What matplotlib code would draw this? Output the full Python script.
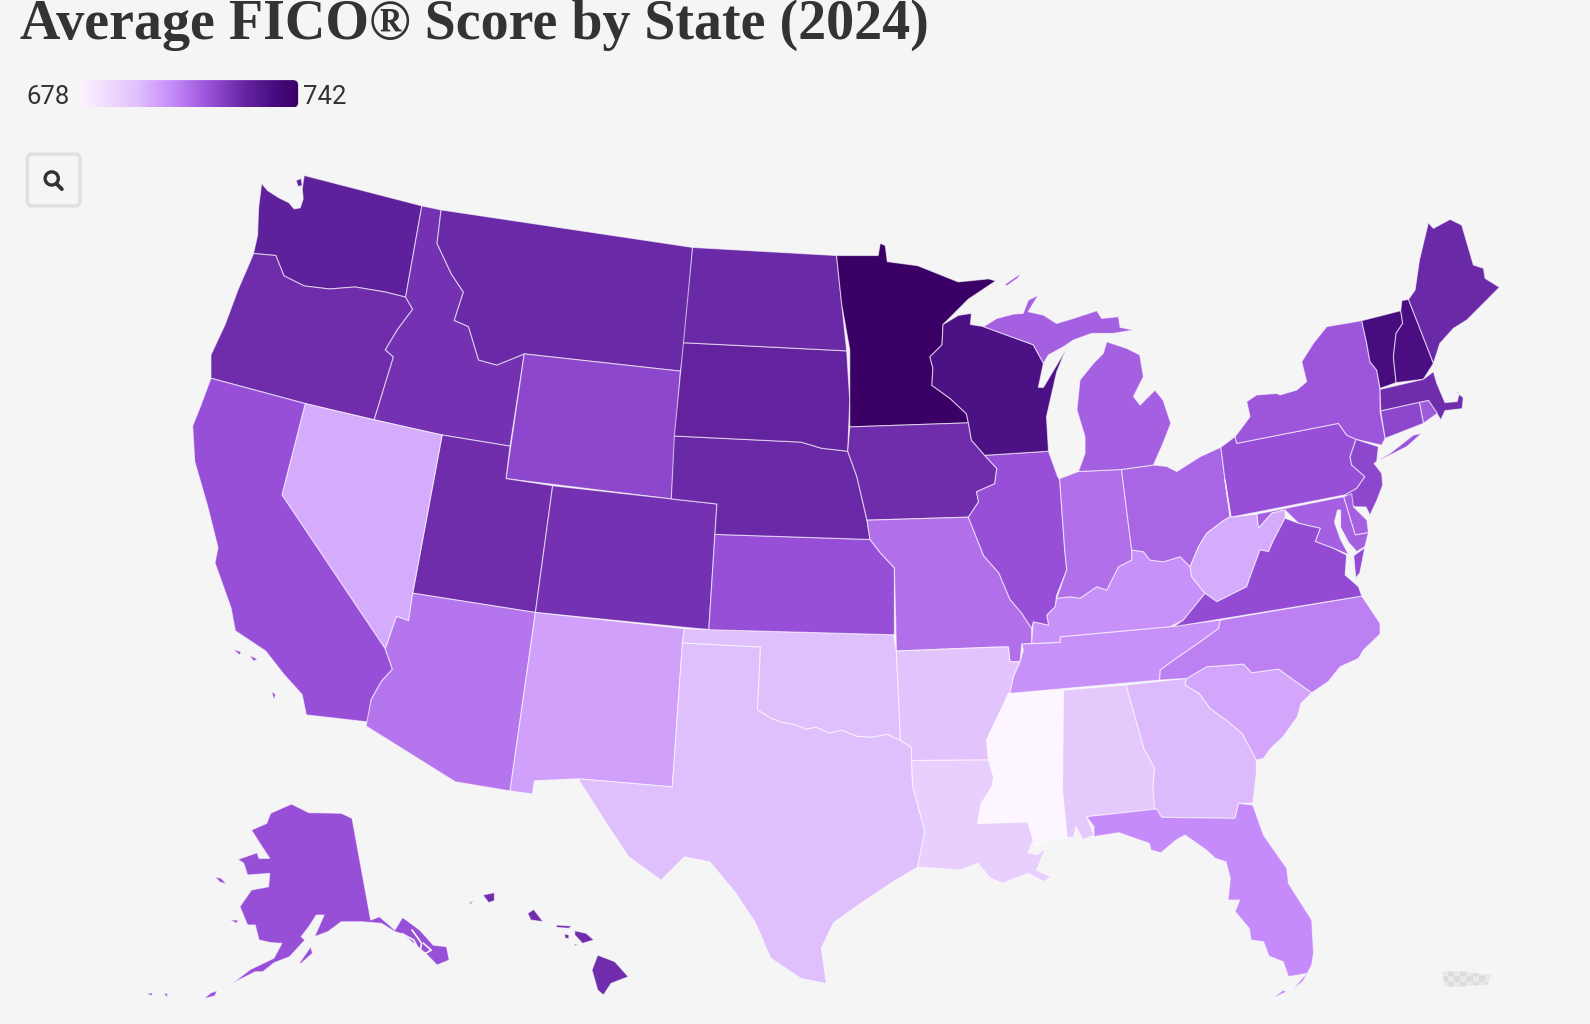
import matplotlib
matplotlib.use("Agg")
import matplotlib.pyplot as plt
import numpy as np
from matplotlib.colors import LinearSegmentedColormap, ListedColormap, Normalize
from matplotlib.patches import Circle, FancyBboxPatch, Polygon

# score range of the legend
SCORE_MIN = 678
SCORE_MAX = 742

# state scores, estimated from the fill colours
STATES = ["AK", "AL", "AR", "AZ", "CA", "CO", "CT", "DE", "FL", "GA", "HI", "IA", "ID", "IL", "IN", "KS", "KY",
          "LA", "MA", "MD", "ME", "MI", "MN", "MO", "MS", "MT", "NC", "ND", "NE", "NH", "NJ", "NM", "NV", "NY",
          "OH", "OK", "OR", "PA", "RI", "SC", "SD", "TN", "TX", "UT", "VA", "VT", "WA", "WI", "WV", "WY"]
SCORES = [716, 692, 694, 709, 716, 723, 718, 713, 705, 696, 724, 724, 723, 716, 710, 716, 704,
          690, 724, 713, 725, 713, 742, 710, 678, 725, 707, 725, 725, 734, 718, 701, 699, 715,
          712, 695, 724, 716, 714, 700, 727, 704, 695, 724, 717, 735, 728, 733, 699, 718]

# colour ramp stops
RAMP_SCORES = [678, 695, 705, 716, 725, 735, 742]
RAMP_COLORS = ["#fdf5ff", "#e0c0fc", "#c68cfa", "#9850d8", "#6b2aa8", "#470c7f", "#3b0066"]

# state outlines, in picture units, one list per land part
OUTLINES = {
    "WA": [[(258, 181), (264, 188), (275, 195), (285, 200), (290, 206), (296, 205), (299, 196), (298, 186), (300, 173), (416, 203), (400, 293), (380, 288), (350, 283), (325, 285), (300, 282), (280, 272), (272, 252), (250, 250), (254, 232), (255, 205)],
           [(292, 178), (297, 176), (298, 183), (294, 184)]],
    "OR": [[(250, 250), (272, 252), (280, 272), (300, 282), (325, 285), (350, 283), (380, 288), (400, 293), (407, 305), (392, 325), (380, 345), (388, 352), (369, 414), (301, 398), (208, 373), (208, 350), (222, 320), (235, 285), (245, 262)]],
    "ID": [[(416, 203), (435, 207), (431, 240), (445, 270), (457, 288), (448, 316), (462, 322), (472, 355), (490, 360), (517, 349), (503, 440), (436, 429), (369, 414), (388, 352), (380, 345), (392, 325), (407, 305), (400, 293)]],
    "MT": [[(435, 207), (683, 244), (676, 340), (671, 366), (517, 349), (490, 360), (472, 355), (462, 322), (448, 316), (457, 288), (445, 270), (431, 240)]],
    "WY": [[(517, 349), (671, 366), (662, 492), (499, 472)]],
    "UT": [[(436, 429), (503, 440), (499, 472), (545, 479), (528, 604), (407, 585)]],
    "NV": [[(301, 398), (369, 414), (436, 429), (407, 585), (403, 612), (391, 608), (380, 640), (278, 488)]],
    "CA": [[(208, 373), (301, 398), (278, 488), (380, 640), (387, 660), (376, 672), (366, 690), (363, 712), (302, 705), (298, 685), (280, 665), (262, 642), (232, 622), (228, 600), (212, 555), (215, 540), (205, 500), (192, 455), (190, 420), (198, 400)],
           [(230, 640), (238, 643), (236, 646)], [(246, 646), (254, 650), (250, 652)], [(268, 682), (272, 685), (270, 690)]],
    "AZ": [[(407, 585), (528, 604), (503, 780), (449, 771), (361, 716), (366, 690), (376, 672), (387, 660), (380, 640), (391, 608), (403, 612)]],
    "CO": [[(545, 479), (707, 497), (699, 621), (528, 604)]],
    "NM": [[(528, 604), (675, 620), (673, 634), (663, 776), (570, 768), (527, 770), (525, 783), (503, 780)]],
    "TX": [[(673, 634), (750, 638), (747, 700), (760, 708), (770, 712), (785, 715), (795, 719), (805, 717), (818, 723), (830, 720), (845, 726), (860, 727), (875, 724), (888, 730), (899, 737), (899, 750), (900, 775), (912, 820), (905, 855), (880, 870), (850, 890), (822, 910), (810, 935), (815, 970), (790, 965), (760, 945), (745, 910), (725, 880), (700, 850), (675, 845), (652, 868), (620, 845), (600, 815), (570, 768), (663, 776)]],
    "OK": [[(675, 620), (881, 626), (884, 642), (888, 730), (875, 724), (860, 727), (845, 726), (830, 720), (818, 723), (805, 717), (795, 719), (785, 715), (770, 712), (760, 708), (747, 700), (750, 638), (673, 634)]],
    "KS": [[(705, 527), (858, 532), (868, 545), (882, 560), (882, 626), (699, 621)]],
    "NE": [[(665, 430), (790, 436), (810, 442), (836, 445), (845, 470), (855, 513), (858, 532), (705, 527), (707, 497), (662, 492)]],
    "SD": [[(674, 338), (835, 346), (838, 395), (836, 445), (810, 442), (790, 436), (665, 430)]],
    "ND": [[(683, 244), (825, 252), (835, 346), (674, 338)]],
    "MN": [[(825, 252), (866, 252), (868, 240), (873, 242), (875, 258), (905, 262), (925, 270), (945, 278), (975, 275), (982, 277), (955, 295), (930, 320), (929, 340), (917, 352), (920, 363), (919, 380), (937, 393), (953, 408), (955, 417), (838, 421), (838, 345), (830, 300)]],
    "IA": [[(838, 421), (955, 417), (958, 434), (971, 449), (983, 462), (981, 477), (963, 485), (965, 495), (955, 510), (855, 513), (845, 470), (836, 445)]],
    "MO": [[(855, 513), (955, 510), (970, 548), (985, 565), (996, 591), (1007.5, 604.7), (1017.4, 619.8), (1017.4, 634.5), (1007.6, 635.2), (1006, 652.6), (996, 652.6), (994.4, 638), (986, 638), (884, 642), (882, 560), (868, 545), (858, 532)]],
    "AR": [[(884, 642), (986, 638), (994.4, 638), (996, 652.6), (1006, 652.6), (999.4, 667.4), (996, 683.8), (985.4, 703.5), (973, 729.8), (975, 749.5), (899, 750), (899, 737), (888, 730)]],
    "LA": [[(899, 750), (975, 749.5), (980, 766), (978.4, 775.8), (967.8, 792.3), (964.3, 812), (1013.6, 810.4), (1019, 828.4), (1013.6, 841), (1022.4, 843), (1031, 836.6), (1022.4, 858), (1036.5, 864.6), (1029.5, 869.5), (1013.6, 861.3), (989, 871), (976.6, 866.2), (964.3, 851.4), (946.7, 858), (905, 855), (912, 820), (900, 775)]],
    "MS": [[(994.3, 683.8), (1048.8, 680.5), (1047.8, 779), (1052.4, 825.8), (1034.8, 827.8), (1020.7, 835), (1019, 828.4), (1013.6, 810.4), (964.3, 812), (967.8, 792.3), (978.4, 775.8), (980, 766), (975, 749.5), (973, 729.8), (985.4, 703.5)]],
    "AL": [[(1048.8, 680.5), (1110.5, 675.5), (1128, 738), (1138.7, 757.7), (1137, 775.8), (1140.4, 797.9), (1071.7, 805.4), (1078.8, 823.5), (1068.2, 827.8), (1061, 815.3), (1058.7, 825.8), (1052.4, 825.8), (1047.8, 779)]],
    "GA": [[(1110.5, 675.5), (1170, 669), (1168.6, 675.5), (1182.7, 683.8), (1193.2, 698.5), (1209, 710), (1225, 723.2), (1232, 736.4), (1239, 749.5), (1239, 762.7), (1235.5, 792), (1221.4, 792.2), (1218, 807), (1145.7, 806), (1138.7, 797), (1137, 775.8), (1138.7, 757.7), (1128, 738)]],
    "FL": [[(1071.7, 805.4), (1140.4, 797.8), (1145.7, 806), (1218, 807), (1221.4, 792.3), (1235.5, 793.9), (1246, 823.5), (1269, 856.4), (1270.7, 871.2), (1293.6, 907.3), (1295.4, 940.2), (1293.6, 951.7), (1284.8, 968), (1274, 976.4), (1288.3, 960), (1270.7, 963.2), (1265.4, 948.4), (1251.4, 942.8), (1246, 928.7), (1233.7, 927), (1232, 915.6), (1218, 899), (1222.5, 887.6), (1216, 887.6), (1211, 887.6), (1213.3, 866.2), (1209, 849.8), (1198.5, 846.5), (1189.7, 838.3), (1168.6, 823.5), (1159.8, 828.4), (1145, 841), (1135, 838.3), (1133.4, 831.7), (1103.4, 821.2), (1078.8, 825), (1078.8, 815.3)],
           [(1256.6, 983), (1265.4, 976.4), (1269, 978), (1258.4, 983)]],
    "SC": [[(1170, 669), (1168.6, 675.5), (1182.7, 683.8), (1193.2, 698.5), (1209, 710), (1225, 723.2), (1232, 736.4), (1239, 749.5), (1246, 748), (1253, 738), (1265.4, 726.5), (1279.5, 706.8), (1283, 693.6), (1293.6, 683.2), (1260.8, 659.8), (1234.4, 663.4), (1226.2, 654.9), (1190, 657.5)]],
    "NC": [[(1203.2, 611.5), (1343, 587.8), (1361, 614.8), (1361, 625.3), (1344.6, 641), (1339.7, 649.3), (1321.6, 657.5), (1310, 672), (1293.6, 683.2), (1260.8, 659.8), (1234.4, 663.4), (1226.2, 654.9), (1190, 657.5), (1170.3, 669), (1143.4, 670.7), (1144, 660.8), (1157.2, 651), (1183.5, 632.9), (1201.6, 619.7)]],
    "TN": [[(1007.6, 635.2), (1045.4, 633.5), (1045.4, 628), (1153.9, 618), (1203.2, 611.5), (1201.6, 619.7), (1183.5, 632.9), (1157.2, 651), (1144, 660.8), (1143.4, 670.7), (996, 683.8), (999.4, 667.4), (1006, 652.6), (1009.2, 641)]],
    "KY": [[(1042, 590), (1055.2, 588.5), (1065, 590), (1081.6, 578.6), (1091.4, 581.9), (1103, 558.9), (1116, 552.3), (1116, 542.4), (1127.6, 544), (1134, 552.3), (1147.3, 554), (1163.8, 549), (1173.6, 558.9), (1175.3, 568.8), (1188.4, 585.2), (1167, 611.5), (1153.9, 618), (1045.4, 628), (1045.4, 633.5), (1017.4, 634.5), (1019, 613.2), (1034, 616.4), (1032.2, 606.6), (1040.5, 598.3)]],
    "IL": [[(971, 449), (1034, 445), (1043, 470), (1045, 473), (1050, 542.4), (1052, 562), (1042, 587), (1040.5, 598.3), (1032.2, 606.6), (1034, 616.4), (1019, 613.2), (1017.4, 619.8), (1007.5, 604.7), (996, 591), (985, 565), (970, 548), (955, 510), (965, 495), (963, 485), (981, 477), (983, 462)]],
    "IN": [[(1045, 472), (1063.5, 465), (1106, 463), (1116, 542.4), (1116, 552.3), (1103, 558.9), (1091.4, 581.9), (1081.6, 578.6), (1065, 590), (1055.2, 588.5), (1042, 590), (1052, 562), (1050, 542.4)]],
    "OH": [[(1106, 463), (1137.5, 458.6), (1150.6, 460), (1160.5, 465), (1183.5, 450.4), (1204, 441), (1208, 473), (1213, 509.5), (1205, 514.5), (1190, 526), (1182, 539), (1173.6, 558.9), (1163.8, 549), (1147.3, 554), (1134, 552.3), (1127.6, 544), (1116, 542.4)]],
    "WI": [[(930, 320), (945, 311), (958, 309), (957, 320), (970, 322), (1000, 333), (1019, 340), (1029, 358), (1024, 382), (1029, 382), (1051, 345), (1042, 367), (1032, 411), (1034, 445), (971, 449), (958, 434), (955, 417), (953, 408), (937, 393), (919, 380), (920, 363), (917, 352), (929, 340)]],
    "MI": [[(969.8, 322.2), (983, 314), (999.4, 309.7), (1009, 309), (1014, 296), (1024, 291), (1014, 307.4), (1029, 310.7), (1042, 319), (1058.6, 314), (1081.6, 306.4), (1086.5, 314), (1103, 312.3), (1104.6, 322.8), (1117.8, 325.5), (1098, 328.8), (1076.7, 328.8), (1058.6, 335.3), (1048.7, 342), (1034, 350), (1029, 358.3), (1019, 340)],
           [(1091.4, 337), (1111, 343.5), (1124, 350), (1127.6, 371.5), (1117.8, 391), (1124.3, 399.5), (1139, 384.7), (1147, 394.5), (1154.6, 417.5), (1147, 437), (1137.5, 458.6), (1106, 463), (1063.5, 465), (1070, 447), (1070, 430.7), (1062, 404.4), (1065, 374.8), (1078.3, 358.3), (1088, 348.5)],
           [(991, 280.4), (1006.6, 269.6), (1004, 274), (993, 282)]],
    "PA": [[(1204, 441), (1218, 430.6), (1219.6, 437.2), (1319.9, 417.5), (1328, 429), (1337.3, 433.3), (1331.4, 450.4), (1333, 458.6), (1346, 470), (1338, 481.6), (1326.5, 488), (1214, 510), (1208, 473)]],
    "NY": [[(1219.6, 437.2), (1218, 430.6), (1232.7, 411), (1229.5, 396), (1239.3, 389.5), (1259, 388), (1262.3, 389.5), (1278.8, 384.6), (1288.6, 376.4), (1283.7, 356.7), (1295.2, 338.6), (1308.4, 322.1), (1342.9, 316.2), (1347.8, 338.6), (1351, 356.7), (1357.7, 365), (1361, 384.6), (1361, 406), (1366, 432.3), (1362.6, 439), (1337.3, 433.3), (1328, 429), (1319.9, 417.5)],
           [(1359.3, 453.7), (1370.8, 447), (1393.9, 429), (1402, 427.4), (1387.3, 440.5), (1364.3, 452)]],
    "VT": [[(1342.9, 316.2), (1381.4, 306.4), (1383.3, 318.9), (1376.8, 328.7), (1374.1, 351.7), (1376.8, 377.4), (1361, 383), (1357.7, 365), (1351, 356.7), (1347.8, 338.6)]],
    "NH": [[(1382.4, 296.5), (1389, 295.2), (1413.6, 358.3), (1403.7, 374), (1376.8, 377.4), (1374.1, 351.7), (1376.8, 328.7), (1383.3, 318.9), (1381.4, 306.4)]],
    "ME": [[(1389, 295.2), (1395.5, 286), (1399.8, 256.4), (1408.6, 219.6), (1413.6, 225.2), (1430, 216.3), (1441.5, 221.9), (1453, 261.3), (1463, 264.6), (1464.5, 274.5), (1478.7, 283.3), (1463, 299.1), (1446.5, 315.6), (1433.3, 323.8), (1420, 338.6), (1413.6, 358.3)]],
    "MA": [[(1361, 384), (1403.7, 374), (1413.6, 366.5), (1416.9, 378), (1425, 397), (1437, 396), (1439, 388), (1434, 385), (1443, 392), (1442, 403), (1425, 405), (1421, 414), (1408.7, 395), (1361.6, 405.3)]],
    "RI": [[(1399.8, 396.8), (1408.7, 395), (1417.5, 407.6), (1403.7, 417.5)]],
    "CT": [[(1361.6, 405.3), (1399.8, 396.8), (1403.7, 417.5), (1366, 432.3)]],
    "NJ": [[(1337.3, 433.3), (1359.3, 440.5), (1357.7, 455.3), (1355, 457), (1362.6, 466.8), (1363.6, 478.3), (1358, 493), (1351, 508), (1347, 500), (1335, 499.7), (1326.5, 488), (1338, 481.6), (1346, 470), (1333, 458.6), (1331.4, 450.4)]],
    "DE": [[(1325, 489.8), (1333, 487), (1334.7, 499.7), (1348, 512.9), (1349.5, 525.3), (1336.4, 527.6)]],
    "MD": [[(1239.4, 507), (1325, 489.8), (1336.4, 527.6), (1349.5, 525.3), (1346, 539), (1338, 544), (1330, 535), (1322, 520), (1322, 503), (1319, 503), (1316, 515), (1322, 532), (1330, 547), (1315, 540.8), (1297, 534), (1302, 521), (1280.5, 516), (1267.3, 503), (1254.2, 506), (1241, 521)]],
    "WV": [[(1208, 473), (1214, 510), (1239.4, 507), (1241, 521), (1254.2, 506), (1267.3, 503), (1267.3, 511), (1256, 532.6), (1251, 544), (1242.6, 542.4), (1232.8, 568.8), (1229.5, 578.6), (1200, 593.4), (1188.4, 585.2), (1175.3, 568.8), (1173.6, 558.9), (1182, 539), (1190, 526), (1205, 514.5), (1213, 509.5)]],
    "VA": [[(1267.3, 511), (1280.5, 516), (1302, 521), (1297, 534), (1315, 540.8), (1328, 547.4), (1326.5, 567), (1339.7, 578.6), (1343, 587.8), (1157.2, 618.1), (1167, 611.5), (1188.4, 585.2), (1200, 593.4), (1229.5, 578.6), (1232.8, 568.8), (1242.6, 542.4), (1251, 544), (1256, 532.6)],
           [(1335, 548), (1346, 540), (1341, 565), (1337, 570)]],
    "AK": [[(287.5, 792.9), (304.5, 801.4), (336.6, 802), (347.2, 807), (365.6, 907.3), (374.3, 904), (389.4, 917.2), (397, 904.7), (414, 917.2), (427.2, 932), (440.4, 933.6), (443, 946.8), (431, 951.7), (419.6, 940), (397, 921), (389.4, 918.8), (376.2, 910.6), (357.3, 909), (336.6, 909), (323.4, 918.8), (310.2, 923.7), (319.6, 902.4), (312, 902.4), (304.5, 913.9), (297, 923.7), (300.7, 927), (285.6, 943.5), (270.5, 949.4), (259.2, 958.3), (251.7, 958.3), (229, 969.8), (247, 956), (270, 945), (278, 930.3), (266.8, 929.6), (255.4, 927), (251.7, 912.2), (244.1, 912.2), (236.6, 894.1), (247.9, 877.7), (264.9, 874.4), (266, 861.3), (244.1, 862.9), (240.4, 851.4), (234.7, 847.5), (253.6, 840.9), (255.4, 846.5), (266, 846.5), (257.3, 833.3), (247.9, 818.5), (263, 812), (266.8, 802)],
           [(295, 950), (306.4, 933.6), (308.3, 940), (297, 950)], [(212, 865), (218, 866), (223.4, 871.8), (217, 870)],
           [(227, 907.3), (234.7, 907.3), (233.6, 910.6)], [(201, 985), (208, 979), (214, 977), (212, 982)],
           [(144, 980), (150, 979), (150, 982)], [(161, 979), (165, 979), (165, 983)]],
    "HI": [[(589.4, 941.8), (606.4, 948.4), (619.6, 963.2), (602.6, 969.8), (595.1, 981.3), (589.4, 976.4), (583.8, 956.6)],
           [(566.8, 917.8), (578.1, 920.4), (585.7, 927), (574.4, 930.3), (566.8, 922)],
           [(548.7, 912.2), (563.7, 913.2), (561, 915.5), (548.7, 914.5)],
           [(556.6, 921), (561, 922), (561, 925.4), (557.4, 925.4)],
           [(566.8, 931), (569.5, 931), (566.8, 933)],
           [(526.4, 896.8), (535.6, 909), (523.4, 907.3), (520.4, 900.7)],
           [(476.2, 882.6), (487.6, 880.3), (487.6, 888.2), (481.9, 890.2)],
           [(461.9, 891.5), (466.8, 887.6), (465, 891)]],
}

# channels between the islands of the Alaska panhandle
AK_CHANNELS = [[(397, 921), (408, 927), (414, 938.5)],
               [(406.4, 917.2), (415.8, 930.3), (414, 938.5)],
               [(417.7, 930.3), (425.3, 937), (419.6, 940.2)]]

# Puerto Rico has no score, it stays a grey checker shape
PUERTO_RICO = [(1422, 958), (1445, 958), (1470, 962), (1467, 971), (1440, 973), (1425, 973)]
CHECKER_GREYS = ["#e9e9e9", "#dcdcdc"]

W, H = 1590, 1024
SCALE = W / 1568
BG = "#f5f5f5"
INK = "#333333"
LABEL_FONT = ["Liberation Sans Narrow", "Roboto"]


def main():
    fig = plt.figure(figsize=(W / 100, H / 100), dpi=100, facecolor=BG)
    ax = fig.add_axes([0, 0, 1, 1])
    ax.set_facecolor(BG)

    norm = Normalize(SCORE_MIN, SCORE_MAX)
    stops = [(norm(s), c) for s, c in zip(RAMP_SCORES, RAMP_COLORS)]
    cmap = LinearSegmentedColormap.from_list("fico", stops)

    scores = dict(zip(STATES, SCORES))
    for state, parts in OUTLINES.items():
        color = cmap(norm(scores[state]))
        for part in parts:
            ax.add_patch(Polygon(part, closed=True, facecolor=color, edgecolor=(1, 1, 1, 0.6), linewidth=0.8, joinstyle="round"))

    for channel in AK_CHANNELS:
        xs, ys = zip(*channel)
        ax.plot(xs, ys, color=BG, linewidth=1.2)

    # checker texture clipped to the island
    checker = np.indices((3, 8)).sum(axis=0) % 2
    island = Polygon(PUERTO_RICO, closed=True, facecolor="none", edgecolor="none", transform=ax.transData)
    ax.add_patch(island)
    pr_img = ax.imshow(checker, cmap=ListedColormap(CHECKER_GREYS), extent=(1422, 1470, 973, 958), aspect="auto", interpolation="bilinear")
    pr_img.set_clip_path(island)

    # legend bar
    gradient = np.linspace(0, 1, 256).reshape(1, -1)
    img = ax.imshow(gradient, cmap=cmap, extent=(78, 294, 106, 79), aspect="auto", zorder=3)
    clip = FancyBboxPatch((78, 79), 216, 27, boxstyle="round,pad=0,rounding_size=5", transform=ax.transData, facecolor="none", edgecolor="none")
    ax.add_patch(clip)
    img.set_clip_path(clip)
    ax.text(26, 96, str(SCORE_MIN), fontsize=18.5, family=LABEL_FONT, color=INK, va="center", ha="left")
    ax.text(299, 96, str(SCORE_MAX), fontsize=18.5, family=LABEL_FONT, color=INK, va="center", ha="left")

    # search button
    ax.add_patch(FancyBboxPatch((27, 152), 52, 51, boxstyle="round,pad=0,rounding_size=5", facecolor=BG, edgecolor="#e0e0e0", linewidth=2.5))
    ax.add_patch(Circle((51, 176), 6.5, facecolor="none", edgecolor=INK, linewidth=2.4))
    ax.plot([55.5, 61], [181, 186.5], color=INK, linewidth=2.8, solid_capstyle="round")

    ax.text(20, 38, "Average FICO® Score by State (2024)", fontsize=40.3, fontweight="bold",
            family="Liberation Serif", color=INK, va="baseline", ha="left")

    ax.set_xlim(0, W / SCALE)
    ax.set_ylim(H / SCALE, 0)
    ax.axis("off")
    fig.savefig("out.png", dpi=100, facecolor=BG)


if __name__ == "__main__":
    main()
